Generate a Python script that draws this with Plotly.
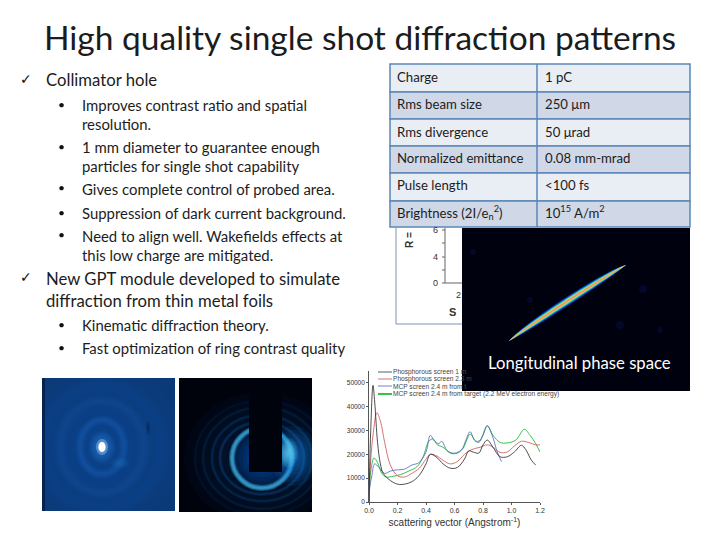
import plotly.graph_objects as go

# scattering curves
q_black = [0, 0.005, 0.012, 0.028, 0.04, 0.06, 0.08, 0.1, 0.15, 0.2, 0.25, 0.3, 0.35, 0.4, 0.43, 0.47, 0.52, 0.57, 0.62, 0.67, 0.7, 0.73, 0.77, 0.8, 0.83, 0.87, 0.92, 0.97, 1.02, 1.07, 1.1, 1.14, 1.17]
i_black = [0, 15000, 30000, 49000, 42000, 25000, 16000, 12000, 9000, 7500, 7500, 8500, 11000, 16000, 20000, 19000, 16000, 14200, 14500, 18000, 21500, 21000, 20500, 24000, 26000, 23000, 19000, 19000, 21000, 23800, 22000, 17500, 15500]
q_red = [0, 0.005, 0.015, 0.03, 0.055, 0.08, 0.11, 0.15, 0.2, 0.25, 0.3, 0.35, 0.4, 0.43, 0.47, 0.52, 0.57, 0.62, 0.67, 0.72, 0.78, 0.83, 0.87, 0.92, 0.97, 1.02, 1.07, 1.12, 1.17, 1.2]
i_red = [0, 10000, 20000, 29000, 37500, 34000, 25000, 15500, 11000, 10500, 12000, 14000, 18000, 20000, 19500, 17500, 16000, 17000, 20000, 22000, 23000, 24000, 23000, 20800, 21000, 23500, 25500, 25000, 24000, 24000]
q_blue = [0, 0.005, 0.02, 0.04, 0.07, 0.11, 0.15, 0.2, 0.25, 0.3, 0.35, 0.4, 0.43, 0.46, 0.49, 0.51, 0.55, 0.6, 0.65, 0.68, 0.71, 0.74, 0.77, 0.8, 0.83, 0.87, 0.9, 0.93]
i_blue = [0, 6000, 11000, 16000, 14500, 12000, 13000, 13500, 13800, 15500, 16500, 21000, 28000, 25500, 24500, 25500, 21500, 20500, 22000, 26000, 29500, 26000, 25000, 28000, 32000, 27000, 21000, 17000]
q_green = [0, 0.005, 0.015, 0.035, 0.06, 0.09, 0.12, 0.17, 0.22, 0.28, 0.34, 0.38, 0.42, 0.45, 0.48, 0.52, 0.57, 0.62, 0.66, 0.71, 0.75, 0.78, 0.83, 0.87, 0.92, 0.97, 1.03, 1.09, 1.13, 1.17, 1.2]
i_green = [0, 8000, 14000, 18500, 16500, 12000, 10500, 10800, 11500, 13000, 15000, 19000, 25500, 26500, 24000, 23000, 20500, 20500, 22500, 28500, 25500, 26000, 32000, 28000, 25000, 24800, 26000, 30500, 28000, 24500, 21000]

legend_labels = ["Phosphorous screen 1 m", "Phosphorous screen 2.3 m", "MCP screen 2.4 m from t",
                 "MCP screen 2.4 m from target (2.2 MeV electron energy)"]

# slide text
table_left = ["Charge", "Rms beam size", "Rms divergence", "Normalized emittance", "Pulse length", "Brightness (2I/e<sub>n</sub><sup>2</sup>)"]
table_right = ["1 pC", "250 μm", "50 μrad", "0.08 mm-mrad", "&lt;100 fs", "10<sup>15</sup> A/m<sup>2</sup>"]
sub_lines = ["Improves contrast ratio and spatial", "resolution.",
             "1 mm diameter to guarantee enough", "particles for single shot capability",
             "Gives complete control of probed area.", "Suppression of dark current background.",
             "Need to align well. Wakefields effects at", "this low charge are mitigated.",
             "Kinematic diffraction theory.", "Fast optimization of ring contrast quality"]
sub_y = [105, 124, 147, 166, 189, 213, 236, 255, 325, 348]
bullet_y = [104, 146, 188, 212, 235, 324, 347]
head_lines = ["Collimator hole", "New GPT module developed to simulate", "diffraction from thin metal foils"]
head_y = [80, 279, 301]
check_y = [79, 277]

FONT = "Lato"
INK = "#1c1c1c"


# slide is laid out in pixels of the 720x540 page
def px(x):
    return x / 720


def py(y):
    return 1 - y / 540


shapes = []
notes = []


def rect(x0, y0, x1, y1, fill, line=None, width=0, layer="above"):
    shapes.append(dict(type="rect", xref="paper", yref="paper", x0=px(x0), x1=px(x1), y0=py(y0), y1=py(y1),
                       fillcolor=fill, line=dict(color=line or fill, width=width), layer=layer))


def seg(x0, y0, x1, y1, color, width=1, layer="below"):
    shapes.append(dict(type="line", xref="paper", yref="paper", x0=px(x0), x1=px(x1), y0=py(y0), y1=py(y1),
                       line=dict(color=color, width=width), layer=layer))


def ring(cx, cy, rx, ry, rgb, alpha, width):
    # soft ring: a few strokes of falling width on top of each other
    for k in (3.0, 2.0, 1.0):
        shapes.append(dict(type="circle", xref="paper", yref="paper", x0=px(cx - rx), x1=px(cx + rx),
                           y0=py(cy + ry), y1=py(cy - ry), fillcolor="rgba(0,0,0,0)",
                           line=dict(color=f"rgba({rgb},{alpha / 3})", width=width * k), layer="below"))


def blob(cx, cy, rx, ry, rgb, alpha, steps=8):
    for s in range(steps, 0, -1):
        f = s / steps
        shapes.append(dict(type="circle", xref="paper", yref="paper", x0=px(cx - rx * f), x1=px(cx + rx * f),
                           y0=py(cy + ry * f), y1=py(cy - ry * f), fillcolor=f"rgba({rgb},{alpha / steps})",
                           line=dict(width=0), layer="below"))


def text(x, y, s, size, color=INK, anchor="left", family=FONT, angle=0, bold=False):
    # left anchored annotations sit about 2 px right of x
    x = x - 2 if anchor == "left" else x
    notes.append(dict(xref="paper", yref="paper", x=px(x), y=py(y), text=f"<b>{s}</b>" if bold else s,
                      showarrow=False, xanchor=anchor, yanchor="middle", textangle=angle,
                      font=dict(family=family, size=size, color=color)))


# left diffraction image
rect(42, 378, 175, 511, "#0b3a78", layer="below")
blob(102, 447, 80, 80, "18,82,165", 0.55)
for rx, ry, a, w in [(22, 27, 0.32, 3), (42, 46, 0.16, 4), (60, 62, 0.1, 4)]:
    ring(102, 447, rx, ry, "40,115,205", a, w)
blob(120, 463, 10, 6, "45,125,205", 0.45)
blob(102, 447, 13, 16, "50,140,225", 0.8)
blob(102, 447, 6, 8, "230,245,255", 0.9, steps=3)
blob(102, 447, 3.5, 5, "255,255,255", 1.0, steps=1)
blob(148, 428, 2, 7, "6,30,65", 0.6, steps=3)
rect(42, 378, 45, 511, "rgba(2,12,40,0.5)", layer="below")
# keep the glow inside the image
rect(10, 365, 42, 535, "#ffffff", layer="below")
rect(175, 365, 179, 535, "#ffffff", layer="below")
rect(10, 511, 179, 535, "#ffffff", layer="below")
rect(10, 360, 179, 378, "#ffffff", layer="below")

# right diffraction image
rect(179, 378, 312, 512, "#00030c", layer="below")
blob(262, 458, 78, 66, "6,48,110", 0.6)
blob(262, 458, 31, 31, "10,90,195", 0.9)
for r, a in [(42, 0.3), (50, 0.25), (59, 0.17), (67, 0.1)]:
    ring(262, 458, r, r * 0.86, "30,120,215", a, 1.3)
ring(262, 458, 30, 30, "70,200,255", 1.0, 2)
blob(294, 456, 24, 30, "25,140,240", 0.75)
blob(288, 453, 10, 15, "110,230,255", 1.0)
rect(249, 378, 282, 472, "#00030c", layer="below")
# trim what spills out of the right image
rect(312, 378, 340, 535, "#ffffff", layer="below")
rect(179, 512, 340, 535, "#ffffff", layer="below")
rect(179, 360, 340, 378, "#ffffff", layer="below")

# chart hidden behind the table and the beam image
BOX = "#7d93b2"
seg(396, 228, 396, 324, BOX)
seg(396, 324, 462, 324, BOX)
seg(445, 228, 445, 283, "#666666")
seg(445, 283, 462, 283, "#666666")
for tick_y in [230, 243, 257, 270, 283]:
    seg(442, tick_y, 445, tick_y, "#666666")
text(436, 283, "0", 9, "#333333", "center", "Liberation Sans")
text(436, 257, "4", 9, "#333333", "center", "Liberation Sans")
text(436, 230, "6", 9, "#333333", "center", "Liberation Sans")
text(459, 295, "2", 9, "#333333", "center", "Liberation Sans")
text(452, 312, "S", 11, "#333333", "center", "Liberation Sans", bold=True)
text(409, 240, "R =", 10, "#333333", "center", "Liberation Sans", angle=-90, bold=True)

# beam image with the streak
rect(462, 228, 690, 391, "#00010f")
for dx, dy, r in [(643, 289, 4), (473, 252, 3), (620, 325, 4), (660, 330, 3), (530, 300, 3)]:
    shapes.append(dict(type="circle", xref="paper", yref="paper", x0=px(dx - r), x1=px(dx + r), y0=py(dy + r),
                       y1=py(dy - r), fillcolor="#03072a", line=dict(width=0), layer="above"))
for half, color in [(5.6, "#071f8a"), (4.6, "#0a55d8"), (3.7, "#12b5e0"), (2.8, "#55e07a"), (2.0, "#e8d84a"), (1.1, "#ef8f7a")]:
    ox, oy = 0.54 * half, 0.84 * half
    shapes.append(dict(type="path", xref="paper", yref="paper", fillcolor=color, line=dict(width=0), layer="above",
                       path=f"M {px(509)},{py(341)} C {px(525 + ox)},{py(328 + oy)} {px(610 + ox)},{py(273 + oy)} {px(626)},{py(265)} "
                            f"C {px(610 - ox)},{py(273 - oy)} {px(525 - ox)},{py(328 - oy)} {px(509)},{py(341)} Z"))
text(579, 363, "Longitudinal phase space", 16.7, "#ffffff", "center")

# parameter table
row_edges = [64, 92, 119, 146, 173, 201, 227]
row_mid = [77, 104, 132, 158, 185, 212]
for i in range(6):
    rect(390, row_edges[i], 690, row_edges[i + 1], "#e9edf4" if i % 2 == 0 else "#d0d8e8", "#5b86b8", 1.5)
    text(397, row_mid[i], table_left[i], 13.2)
    text(545, row_mid[i], table_right[i], 13.2)
seg(537, 64, 537, 227, "#5b86b8", 1.5, layer="above")

# title and bullets
text(360, 37, "High quality single shot diffraction patterns", 33.5, INK, "center")
for s, y in zip(head_lines, head_y):
    text(46, y, s, 16.7)
for y in check_y:
    text(20, y, "✓", 14, "#111111", family="DejaVu Sans")
for s, y in zip(sub_lines, sub_y):
    text(82, y, s, 14.9)
for y in bullet_y:
    text(58, y, "•", 12, "#111111")

# legend of the scattering plot, cut off by the beam image like in the slide
legend_y = [372, 379, 386, 394]
legend_colors = ["#333333", "#c8504f", "#4b63b5", "#35c24a"]
legend_widths = [0.8, 0.8, 0.8, 2]
for label, y, c, w in zip(legend_labels, legend_y, legend_colors, legend_widths):
    seg(378, y, 392, y, c, w)
    text(393, y, label, 6.6, "#444444", family="Liberation Sans")

fig = go.Figure()
fig.add_trace(go.Scatter(x=q_green, y=i_green, mode="lines", line=dict(color="#35c24a", width=1, shape="spline")))
fig.add_trace(go.Scatter(x=q_blue, y=i_blue, mode="lines", line=dict(color="#4b63b5", width=0.8, shape="spline")))
fig.add_trace(go.Scatter(x=q_red, y=i_red, mode="lines", line=dict(color="#c8504f", width=0.8, shape="spline")))
fig.add_trace(go.Scatter(x=q_black, y=i_black, mode="lines", line=dict(color="#222222", width=0.8, shape="spline")))

fig.update_layout(
    width=720,
    height=540,
    # paper annotations near the edge must not push the margins
    margin=dict(l=0, r=0, t=0, b=0, autoexpand=False),
    paper_bgcolor="white",
    plot_bgcolor="rgba(0,0,0,0)",
    showlegend=False,
    shapes=shapes,
    annotations=notes,
    xaxis=dict(
        domain=[px(369), px(540)], range=[0, 1.2], tickmode="array",
        tickvals=[0, 0.2, 0.4, 0.6, 0.8, 1.0, 1.2], ticktext=["0.0", "0.2", "0.4", "0.6", "0.8", "1.0", "1.2"],
        showgrid=False, zeroline=False, showline=True, linecolor="#555555", linewidth=0.7,
        ticks="outside", ticklen=2, tickcolor="#555555",
        tickfont=dict(family="Liberation Sans", size=7, color="#333333"),
        title=dict(text="scattering vector (Angstrom<sup>-1</sup>)", standoff=5,
                   font=dict(family="Liberation Sans", size=10, color="#333333")),
    ),
    yaxis=dict(
        domain=[py(502), py(371)], range=[0, 55000], tickmode="array",
        tickvals=[0, 10000, 20000, 30000, 40000, 50000], tickformat="d",
        showgrid=False, zeroline=False, showline=True, linecolor="#555555", linewidth=0.7,
        ticks="outside", ticklen=2, tickcolor="#555555",
        tickfont=dict(family="Liberation Sans", size=6.5, color="#333333"),
    ),
)

# page body has a default margin, the slide should sit at the corner
fig.write_html("out.html", config=dict(displayModeBar=False), post_script="document.body.style.margin='0';")
